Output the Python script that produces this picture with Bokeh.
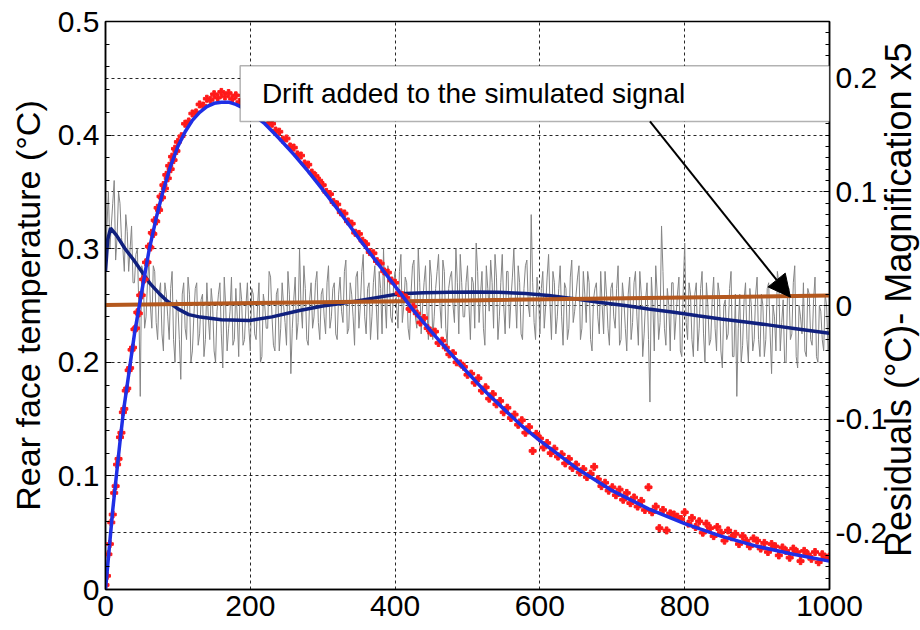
from bokeh.plotting import figure
from bokeh.layouts import row
from bokeh.models import (Range1d, LinearAxis, FixedTicker, CustomJSTickFormatter,
                          BoxAnnotation, Label, Arrow, NormalHead)
from bokeh.embed import file_html
from bokeh.resources import INLINE

FONT = "Liberation Sans"

# ---------------- data ----------------
x_ticks = [0, 200, 400, 600, 800, 1000]
y_ticks = [0, 0.1, 0.2, 0.3, 0.4, 0.5]
res_ticks = [-0.2, -0.1, 0, 0.1, 0.2]
grid_x = [200, 400, 600, 800]
grid_y = [0.05, 0.1, 0.15, 0.2, 0.25, 0.3, 0.35, 0.4, 0.45]

# fitted model (blue)
fit_t = [0, 5, 10, 15, 20, 25, 30, 40, 50, 60, 70, 80, 90, 100, 110, 120, 130, 140,
         150, 160, 170, 180, 190, 200, 220, 240, 260, 280, 300, 325, 350, 375, 400,
         425, 450, 475, 500, 525, 550, 575, 600, 650, 700, 750, 800, 850, 900, 950, 1000]
fit_v = [0.0, 0.035, 0.07, 0.10, 0.13, 0.158, 0.18, 0.225, 0.262, 0.298, 0.327, 0.352,
         0.373, 0.39, 0.403, 0.413, 0.42, 0.425, 0.428, 0.429, 0.429, 0.427, 0.424, 0.42,
         0.41, 0.397, 0.383, 0.368, 0.352, 0.331, 0.309, 0.288, 0.267, 0.246, 0.227,
         0.209, 0.191, 0.174, 0.159, 0.144, 0.131, 0.107, 0.087, 0.071, 0.058, 0.047,
         0.038, 0.031, 0.025]

# measured signal (red points)
meas_t = list(range(0, 100, 2)) + list(range(100, 1001, 5))
meas_v = [
    0.004, 0.012, 0.031, 0.04, 0.059, 0.066, 0.085, 0.091, 0.11, 0.115,
    0.134, 0.138, 0.156, 0.159, 0.175, 0.177, 0.193, 0.195, 0.211, 0.213,
    0.229, 0.23, 0.244, 0.243, 0.259, 0.259, 0.273, 0.273, 0.288, 0.288,
    0.302, 0.301, 0.314, 0.313, 0.325, 0.324, 0.336, 0.334, 0.346, 0.345,
    0.356, 0.353, 0.365, 0.362, 0.373, 0.37, 0.381, 0.378, 0.388, 0.386,
    # 100 - 195
    0.394, 0.399, 0.41, 0.412, 0.419, 0.42, 0.427, 0.426, 0.432, 0.431,
    0.436, 0.433, 0.438, 0.434, 0.437, 0.432, 0.435, 0.429, 0.431, 0.425,
    # 200 - 295
    0.426, 0.421, 0.42, 0.416, 0.417, 0.41, 0.41, 0.404, 0.403, 0.396,
    0.397, 0.39, 0.389, 0.383, 0.382, 0.375, 0.374, 0.367, 0.364, 0.36,
    # 300 - 395
    0.356, 0.35, 0.348, 0.341, 0.339, 0.332, 0.331, 0.324, 0.322, 0.314,
    0.313, 0.307, 0.304, 0.297, 0.296, 0.289, 0.287, 0.28, 0.279, 0.272,
    # 400 - 495
    0.27, 0.261, 0.259, 0.257, 0.247, 0.249, 0.243, 0.235, 0.239, 0.23,
    0.226, 0.227, 0.217, 0.219, 0.213, 0.207, 0.208, 0.2, 0.199, 0.196,
    # 500 - 595
    0.189, 0.19, 0.182, 0.186, 0.175, 0.178, 0.168, 0.172, 0.163, 0.166,
    0.156, 0.16, 0.151, 0.154, 0.145, 0.149, 0.138, 0.143, 0.122, 0.137,
    # 600 - 695
    0.133, 0.125, 0.129, 0.12, 0.124, 0.117, 0.119, 0.111, 0.115, 0.107,
    0.11, 0.103, 0.106, 0.099, 0.102, 0.108, 0.097, 0.091, 0.094, 0.087,
    # 700 - 795
    0.09, 0.083, 0.088, 0.079, 0.085, 0.076, 0.081, 0.073, 0.078, 0.07,
    0.09, 0.068, 0.073, 0.054, 0.07, 0.052, 0.067, 0.066, 0.064, 0.062,
    # 800 - 895
    0.068, 0.058, 0.063, 0.055, 0.06, 0.05, 0.058, 0.054, 0.047, 0.055,
    0.05, 0.043, 0.052, 0.046, 0.049, 0.04, 0.047, 0.043, 0.038, 0.045,
    # 900 - 1000
    0.043, 0.036, 0.041, 0.033, 0.04, 0.038, 0.03, 0.037, 0.034, 0.028,
    0.036, 0.033, 0.025, 0.034, 0.031, 0.027, 0.033, 0.024, 0.031, 0.028, 0.029,
]

# residuals (grey), right axis: samples at t = 0, 4, 8, ... and t = 2, 6, 10, ...
res_v_a = [
    0.03, 0.10, 0.07, 0.11, 0.06, 0.09, 0.05, 0.08, 0.03, 0.07, 0.02, 0.05, -0.08,
    0.03, -0.01, 0.04, -0.02, 0.03, -0.03, 0.02, -0.04, 0.01, -0.03, 0.03, -0.05,
    0.0, -0.065, 0.02, -0.03, 0.01, -0.04, 0.015, -0.035, 0.005, -0.045, 0.02, -0.03,
    0.0, -0.05, 0.01, -0.025, 0.025, -0.04, -0.005, -0.035, 0.015, -0.045, 0.005, -0.03, 0.02,
    -0.04, 0.01, -0.03, 0.02, -0.045, 0.0, -0.02, 0.025, -0.035, 0.01, -0.04, 0.02,
    -0.015, 0.03, -0.06, 0.005, -0.03, 0.05, -0.02, 0.015, -0.035, 0.02, -0.01, 0.03, -0.03,
    0.015, -0.025, 0.035, -0.01, 0.02, -0.03, 0.025, -0.015, 0.04, -0.02, 0.01, -0.035,
    0.03, 0.0, 0.045, -0.025, 0.02, -0.01, 0.035, -0.03, 0.015, 0.05, -0.02, 0.025, -0.015,
    0.03, -0.02, 0.045, 0.0, 0.02, -0.03, 0.035, -0.01, 0.05, -0.025, 0.02, -0.005,
    0.04, -0.03, 0.015, 0.045, -0.02, 0.03, -0.035, 0.025, 0.0, 0.05, -0.025, 0.02, -0.01,
    0.035, -0.03, 0.02, 0.055, -0.015, 0.03, -0.035, 0.015, 0.04, -0.02, 0.025, -0.01,
    0.045, -0.025, 0.03, 0.005, 0.05, -0.02, 0.02, -0.03, 0.035, 0.0, 0.08, -0.015, 0.025,
    -0.025, 0.03, 0.0, 0.045, -0.03, 0.02, -0.01, 0.035, -0.035, 0.015, -0.02, 0.04,
    -0.005, 0.025, -0.03, 0.03, -0.015, 0.02, -0.04, 0.015, -0.01, 0.03, -0.025, 0.01, -0.035,
    0.02, -0.02, 0.035, -0.03, 0.005, -0.04, 0.025, -0.015, 0.03, -0.035, 0.01, -0.025,
    0.02, -0.085, 0.0, 0.035, -0.03, 0.07, -0.02, 0.015, -0.04, 0.02, -0.01, 0.025, -0.045,
    0.055, -0.03, 0.01, -0.045, 0.02, -0.02, 0.03, -0.05, 0.0, -0.03, 0.025, -0.04,
    0.01, -0.055, 0.005, -0.025, 0.03, -0.045, -0.08, 0.01, -0.035, 0.02, -0.05, 0.0, -0.03,
    0.025, -0.045, 0.0, -0.03, 0.02, -0.06, -0.01, 0.03, -0.04, 0.005, -0.05, 0.015,
    -0.025, 0.035, -0.055, -0.01, 0.02, -0.045, 0.01, -0.035, 0.025, -0.05, -0.005, -0.04, 0.0, -0.03,
]
res_v_b = [
    0.07, 0.05, 0.09, 0.04, 0.10, 0.06, 0.03, 0.065, 0.05, 0.02, 0.045, 0.0, 0.035,
    -0.02, 0.02, 0.0, 0.035, -0.015, 0.01, -0.025, 0.02, -0.01, 0.015, -0.03, 0.005,
    -0.03, 0.01, -0.02, 0.025, -0.05, -0.01, 0.02, -0.025, 0.01, -0.03, -0.01, 0.015,
    -0.04, -0.005, 0.02, -0.055, 0.0, -0.02, 0.025, -0.03, -0.01, 0.02, -0.035, 0.0, -0.02,
    0.015, -0.025, 0.0, -0.05, 0.01, -0.02, 0.03, -0.01, -0.04, 0.015, -0.02, 0.0,
    -0.035, 0.01, -0.02, 0.025, -0.015, 0.0, 0.035, -0.03, 0.005, -0.02, 0.02, -0.015, 0.01,
    -0.01, 0.02, -0.02, 0.015, -0.025, 0.01, -0.005, 0.03, -0.025, 0.02, -0.01, 0.025,
    -0.02, 0.03, -0.01, 0.015, -0.03, 0.02, 0.0, 0.03, -0.025, 0.005, 0.035, -0.01, 0.02,
    0.0, 0.03, -0.015, 0.025, -0.02, 0.01, 0.04, -0.02, 0.02, 0.0, 0.035, -0.03,
    0.025, -0.01, 0.03, 0.0, 0.04, -0.02, 0.015, 0.03, -0.015, 0.02, 0.045, -0.01, 0.02,
    0.0, 0.025, -0.02, 0.03, 0.01, -0.02, 0.035, -0.005, 0.02, 0.045, -0.03, 0.02,
    0.0, 0.03, -0.02, 0.025, 0.01, 0.035, -0.025, 0.015, 0.04, -0.01, 0.02, -0.03, 0.01,
    0.015, -0.02, 0.025, 0.0, 0.03, -0.025, 0.015, -0.01, 0.02, -0.03, 0.025, -0.015,
    0.01, 0.035, -0.02, 0.01, 0.03, -0.03, 0.005, 0.02, -0.025, 0.0, 0.03, -0.02, 0.015,
    -0.01, 0.015, -0.035, 0.02, -0.02, 0.01, -0.03, 0.02, -0.01, 0.03, -0.045, 0.005,
    -0.03, 0.025, -0.04, 0.01, -0.015, 0.03, -0.035, 0.0, 0.02, -0.03, 0.01, -0.04, 0.015,
    -0.015, 0.02, -0.03, 0.01, -0.04, 0.015, -0.025, 0.02, -0.035, 0.005, -0.02, 0.02,
    -0.04, 0.0, -0.03, 0.015, -0.045, 0.01, -0.02, -0.05, 0.005, -0.03, 0.015, -0.04, 0.01,
    -0.03, 0.01, -0.045, 0.015, -0.025, 0.0, -0.04, 0.02, -0.015, -0.05, 0.01, -0.03,
    0.02, -0.045, 0.0, -0.025, -0.04, 0.015, -0.03, 0.005, -0.045, 0.0, -0.03, 0.01, -0.04,
]
res_t = list(range(0, 1001, 2))
res_v = []
for a, b in zip(res_v_a, res_v_b):
    res_v += [a, b]
res_v.append(res_v_a[-1])

# smoothed residual (navy), right axis
smooth_t = [0, 3, 7, 15, 27, 39, 50, 62, 75, 85, 100, 115, 131, 160, 199, 230, 268, 300,
            337, 370, 406, 440, 475, 510, 543, 580, 612, 650, 681, 720, 750, 785, 818,
            850, 887, 920, 956, 1000]
smooth_v = [0.03, 0.058, 0.068, 0.062, 0.05, 0.04, 0.03, 0.019, 0.01, 0.004, -0.003,
            -0.008, -0.0102, -0.0125, -0.0132, -0.01, -0.0044, -0.0005, 0.0029, 0.0065,
            0.0103, 0.0113, 0.0117, 0.0119, 0.0117, 0.0105, 0.0088, 0.0058, 0.0029,
            -0.0003, -0.003, -0.006, -0.009, -0.0118, -0.0147, -0.0175, -0.0206, -0.0244]

# drift added to the signal (brown), right axis
drift_t = [0, 500, 1000]
drift_v = [0.0005, 0.0045, 0.0088]

note_text = "Drift added to the simulated signal"
left_title = "Rear face temperature (°C)"
right_title = "Residuals (°C)- Magnification x5"

# layout geometry (pixels)
W, H = 920, 630
FRAME_L, FRAME_R, FRAME_T, FRAME_B = 105, 832, 21, 589
MAIN_W = 890            # frame + right tick labels
STRIP_X0 = FRAME_R + 2  # transparent title strip overlaps the tick-label border

# ---------------- main figure ----------------
p = figure(width=MAIN_W, height=H, output_backend="svg", toolbar_location=None,
           x_range=Range1d(0, 1000), y_range=Range1d(0, 0.5),
           min_border_left=FRAME_L, min_border_right=MAIN_W - FRAME_R,
           min_border_top=FRAME_T, min_border_bottom=H - FRAME_B,
           background_fill_color="white")
p.extra_y_ranges = {"res": Range1d(-0.25, 0.25)}
p.outline_line_color = "black"
p.outline_line_width = 1.5

fmt = CustomJSTickFormatter(code="var s = tick.toFixed(1); return s.replace(/\\.0$/, '');")

def style_axis(ax):
    ax.axis_line_color = "black"
    ax.axis_line_width = 1.5
    ax.major_tick_out = 0
    ax.minor_tick_out = 0
    ax.major_tick_in = 6
    ax.minor_tick_in = 4
    ax.major_tick_line_color = "black"
    ax.minor_tick_line_color = "black"
    ax.major_label_text_font = FONT
    ax.major_label_text_font_size = "30px"
    ax.major_label_text_color = "black"
    ax.axis_label_text_font = FONT
    ax.axis_label_text_font_size = "34px"
    ax.axis_label_text_font_style = "normal"
    ax.axis_label_text_color = "black"

xa = p.xaxis[0]
style_axis(xa)
xa.ticker = FixedTicker(ticks=x_ticks)
xa.major_label_standoff = 6
xa.major_tick_in = 0

ya = p.yaxis[0]
style_axis(ya)
ya.ticker = FixedTicker(ticks=y_ticks, minor_ticks=[i * 0.02 for i in range(26)])
ya.formatter = fmt
ya.axis_label = left_title
ya.major_label_standoff = 6
ya.axis_label_standoff = 8

ra = LinearAxis(y_range_name="res")
style_axis(ra)
ra.ticker = FixedTicker(ticks=res_ticks, minor_ticks=[-0.25 + i * 0.01 for i in range(51)])
ra.formatter = fmt
ra.major_label_standoff = 6
p.add_layout(ra, "right")

p.xgrid.ticker = FixedTicker(ticks=grid_x)
p.ygrid.ticker = FixedTicker(ticks=grid_y)
for g in (p.xgrid[0], p.ygrid[0]):
    g.grid_line_color = "black"
    g.grid_line_dash = "3 3"
    g.grid_line_width = 1
    g.grid_line_alpha = 0.85

p.line(res_t, res_v, y_range_name="res", line_color="#858585", line_width=1)
p.line(smooth_t, smooth_v, y_range_name="res", line_color="#10207e", line_width=3.5)
p.line(drift_t, drift_v, y_range_name="res", line_color="#b4581e", line_width=4)
p.scatter(meas_t, meas_v, marker="plus", size=7, color="#ff1a1a")
p.line(fit_t, fit_v, line_color="#1f2fe6", line_width=3.5)

p.add_layout(BoxAnnotation(left=186, right=1000, bottom=0.412, top=0.461,
                           fill_color="white", fill_alpha=1.0,
                           line_color="black", line_width=1.5))
p.add_layout(Label(x=216, y=0.4365, text=note_text, text_baseline="middle",
                   text_font=FONT, text_font_size="28px", text_color="black"))
p.add_layout(Arrow(end=NormalHead(size=22, fill_color="black", line_color="black"),
                   x_start=752, y_start=0.412, x_end=946, y_end=0.2573,
                   line_color="black", line_width=2))

# ---------------- transparent strip for the right-hand axis title ----------------
side = figure(width=W - STRIP_X0, height=H, output_backend="svg", toolbar_location=None,
              x_range=Range1d(STRIP_X0, W), y_range=Range1d(-0.25, 0.25),
              x_axis_type=None, y_axis_type=None, min_border=0,
              min_border_left=0, min_border_right=0, min_border_top=FRAME_T,
              min_border_bottom=H - FRAME_B, outline_line_color=None,
              background_fill_alpha=0, border_fill_alpha=0)
side.grid.visible = False
side.margin = (0, 0, 0, STRIP_X0 - MAIN_W)
side.add_layout(Label(x=898, y=0.005, text=right_title, angle=90, angle_units="deg",
                      text_align="center", text_baseline="middle", text_font=FONT,
                      text_font_size="36px", text_color="black"))

layout = row(p, side, spacing=0)
open("out.html", "w").write(file_html(layout, INLINE))
